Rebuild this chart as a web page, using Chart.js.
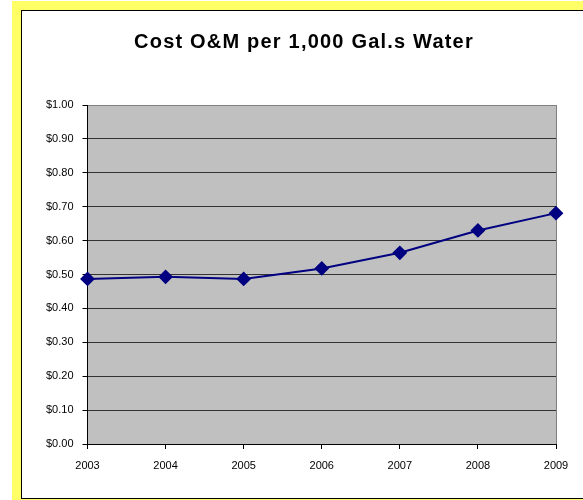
<!DOCTYPE html>
<html lang="en">
<head>
  <meta charset="UTF-8">
  <title>Cost O&amp;M per 1,000 Gal.s Water</title>
  <script src="https://cdn.jsdelivr.net/npm/chart.js"></script>
  <style>
    body { margin: 0; background: #fff; overflow: hidden; }
    #frame { position: absolute; left: 12px; top: 1px; width: 600px; height: 520px; background: #ffff66; }
    #box { position: absolute; left: 21px; top: 10px; width: 580px; height: 487px; background: #fff; border: 1px solid #000; }
    #wrap { position: absolute; left: 22px; top: 11px; width: 561px; height: 486px; }
  </style>
</head>
<body>
  <div id="frame"></div>
  <div id="box"></div>
  <div id="wrap"><canvas id="costChart"></canvas></div>

  <script>
    // values
    const years = ['2003', '2004', '2005', '2006', '2007', '2008', '2009'];
    const costPer1000 = [0.487, 0.493, 0.487, 0.518, 0.564, 0.630, 0.681];

    const excelLook = {
      id: 'excelLook',
      afterInit(chart) {
        // title is centred on the whole chart box (not just the padded area)
        // and slightly spaced out, as Excel renders it
        const t = chart.titleBlock;
        if (!t) return;
        const orig = t.draw.bind(t);
        t.draw = function () {
          const c = chart.ctx;
          c.save();
          c.translate(chart.width / 2 + 1.5 - (t.left + t.right) / 2, 0);
          c.letterSpacing = '1.2px';
          orig();
          c.restore();
        };
      },
      // grey plot background
      beforeDraw(chart) {
        const a = chart.chartArea;
        const ctx = chart.ctx;
        ctx.save();
        ctx.fillStyle = '#c0c0c0';
        ctx.fillRect(a.left, a.top, a.right - a.left, a.bottom - a.top);
        ctx.restore();
      }
    };

    const ctx = document.getElementById('costChart').getContext('2d');
    new Chart(ctx, {
      type: 'line',
      data: {
        labels: years,
        datasets: [{
          data: costPer1000,
          borderColor: '#000080',
          backgroundColor: '#000080',
          borderWidth: 2,
          pointStyle: 'rectRot',
          pointRadius: 6,
          pointHoverRadius: 6,
          fill: false,
          tension: 0
        }]
      },
      options: {
        responsive: true,
        maintainAspectRatio: false,
        animation: false,
        layout: { padding: { left: 0, right: 27, top: 0, bottom: 0 } },
        plugins: {
          legend: { display: false },
          tooltip: { enabled: false },
          title: {
            display: true,
            text: 'Cost O&M per 1,000 Gal.s Water',
            color: '#000',
            font: { family: 'Arial, "Liberation Sans", sans-serif', size: 20, weight: 'bold' },
            padding: { top: 19, bottom: 51 }
          }
        },
        scales: {
          x: {
            offset: false,
            border: { color: '#000', width: 1 },
            grid: {
              color: c => (c.index === years.length - 1 ? '#808080' : 'rgba(0,0,0,0)'),
              tickColor: '#000',
              tickLength: 5,
              drawOnChartArea: true
            },
            ticks: {
              color: '#000',
              padding: 10,
              maxRotation: 0,
              font: { family: 'Arial, "Liberation Sans", sans-serif', size: 11 }
            },
            afterFit: s => { s.height = 53; }
          },
          y: {
            min: 0,
            max: 1,
            border: { color: '#000', width: 1 },
            grid: {
              color: c => (c.tick && c.tick.value === 1 ? '#808080' : '#333'),
              tickColor: '#000',
              tickLength: 5
            },
            ticks: {
              stepSize: 0.1,
              color: '#000',
              padding: 9,
              font: { family: 'Arial, "Liberation Sans", sans-serif', size: 11 },
              callback: v => '$' + Number(v).toFixed(2)
            },
            afterFit: s => { s.width = 65.5; }
          }
        }
      },
      plugins: [excelLook]
    });
  </script>
</body>
</html>
